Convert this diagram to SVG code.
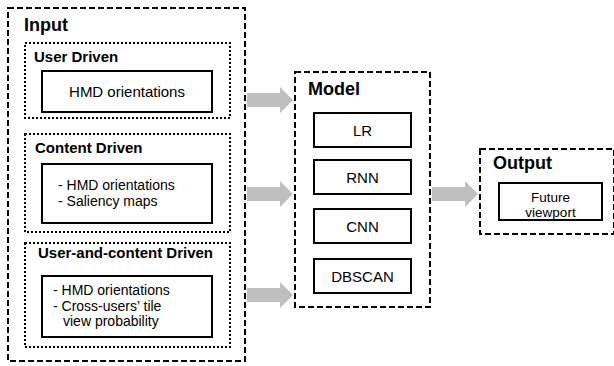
<svg xmlns="http://www.w3.org/2000/svg" width="614" height="366" viewBox="0 0 614 366">
<style>
.dash{fill:none;stroke:#000;stroke-width:2;stroke-dasharray:6,3}
.dot{fill:none;stroke:#000;stroke-width:2;stroke-dasharray:2,2}
.box{fill:#fff;stroke:#000;stroke-width:2}
.h1{font-family:"Liberation Sans",Arial,sans-serif;font-weight:bold;font-size:18px;fill:#000}
.h2{font-family:"Liberation Sans",Arial,sans-serif;font-weight:bold;font-size:15px;fill:#000}
.t{font-family:"Liberation Sans",Arial,sans-serif;font-size:14px;fill:#000}
.tc{font-family:"Liberation Sans",Arial,sans-serif;font-size:15px;fill:#000;text-anchor:middle}
.arrow{fill:#bfbfbf}
</style>
<rect width="614" height="366" fill="#fff"/>
<g id="input">
<rect class="dash" x="8" y="8" width="237" height="353"/>
<text class="h1" x="24" y="31">Input</text>
</g>
<g id="user-driven">
<rect class="dot" x="25" y="43" width="205" height="75"/>
<text class="h2" x="34" y="62">User Driven</text>
<rect class="box" x="42" y="71" width="170" height="41"/>
<text class="tc" x="127" y="97">HMD orientations</text>
</g>
<g id="content-driven">
<rect class="dot" x="25" y="134" width="205" height="98"/>
<text class="h2" x="35" y="153">Content Driven</text>
<rect class="box" x="42" y="164" width="170" height="59"/>
<text class="t" x="58" y="190">- HMD orientations</text>
<text class="t" x="58" y="205.5">- Saliency maps</text>
</g>
<g id="user-and-content-driven">
<rect class="dot" x="25" y="243" width="205" height="104"/>
<text class="h2" x="38" y="258">User-and-content Driven</text>
<rect class="box" x="42" y="276" width="170" height="61"/>
<text class="t" x="53" y="295">- HMD orientations</text>
<text class="t" x="53" y="310.5">- Cross-users’ tile</text>
<text class="t" x="63" y="326">view probability</text>
</g>
<g id="model">
<rect class="dash" x="295" y="72" width="135" height="235"/>
<text class="h1" x="308" y="95">Model</text>
</g>
<g id="lr">
<rect class="box" x="314" y="113" width="97" height="34"/>
<text class="tc" x="362.5" y="136">LR</text>
</g>
<g id="rnn">
<rect class="box" x="314" y="160" width="97" height="34"/>
<text class="tc" x="362.5" y="183">RNN</text>
</g>
<g id="cnn">
<rect class="box" x="314" y="209" width="97" height="34"/>
<text class="tc" x="362.5" y="232">CNN</text>
</g>
<g id="dbscan">
<rect class="box" x="314" y="259" width="97" height="34"/>
<text class="tc" x="362.5" y="282">DBSCAN</text>
</g>
<g id="output">
<rect class="dash" x="480" y="149" width="134" height="85"/>
<text class="h1" x="493" y="169">Output</text>
<rect class="box" x="499" y="183" width="103" height="37"/>
<text class="tc" x="550.5" y="201.5" style="font-size:13.5px">Future</text>
<text class="tc" x="550.5" y="216.5" style="font-size:13.5px">viewport</text>
</g>
<g id="connectors">
<polygon class="arrow" points="247,93 280,93 280,87 293,100 280,113 280,107 247,107"/>
<polygon class="arrow" points="247,187 280,187 280,181 293,194 280,207 280,201 247,201"/>
<polygon class="arrow" points="247,288 280,288 280,282 293,295 280,308 280,302 247,302"/>
<polygon class="arrow" points="432,187 465,187 465,181 478,194 465,207 465,201 432,201"/>
</g>
</svg>
